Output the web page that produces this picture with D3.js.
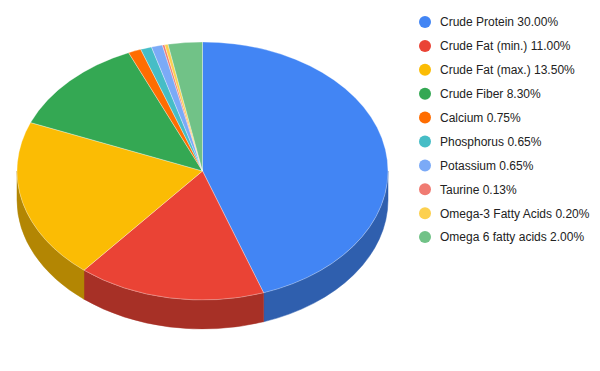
<!DOCTYPE html>
<html>
<head>
<meta charset="utf-8">
<script src="https://cdn.jsdelivr.net/npm/d3@7"></script>
<style>
  body { margin: 0; background: #fff; }
  text { font-family: Arial, "Liberation Sans", sans-serif; }
</style>
</head>
<body>
<svg width="600" height="371"></svg>
<script>
var names = ["Crude Protein 30.00%", "Crude Fat (min.) 11.00%", "Crude Fat (max.) 13.50%",
  "Crude Fiber 8.30%", "Calcium 0.75%", "Phosphorus 0.65%", "Potassium 0.65%",
  "Taurine 0.13%", "Omega-3 Fatty Acids 0.20%", "Omega 6 fatty acids 2.00%"]
var values = [30, 11, 13.5, 8.3, 0.75, 0.65, 0.65, 0.13, 0.2, 2]
var colors = ["#4285f4", "#ea4335", "#fbbc04", "#34a853", "#ff6d01",
  "#46bdc6", "#7baaf7", "#f07b72", "#fcd04f", "#71c287"]

var cx = 202.5, cy = 171, rx = 185.5, ry = 129, depth = 29

var svg = d3.select("svg")

var pie = d3.pie().sort(null).value(function(d) { return d })
var slices = pie(values)

function px(a) { return cx + rx * Math.sin(a) }
function py(a) { return cy - ry * Math.cos(a) }

// side walls, only the front half (between 90 and 270 degrees) is visible
var lo = Math.PI / 2, hi = Math.PI * 1.5
var walls = svg.append("g")
slices.forEach(function(s, i) {
  var a0 = Math.max(s.startAngle, lo)
  var a1 = Math.min(s.endAngle, hi)
  if (a1 <= a0) return
  var big = (a1 - a0) > Math.PI ? 1 : 0
  var p = "M" + px(a0) + "," + py(a0) +
    "A" + rx + "," + ry + " 0 " + big + " 1 " + px(a1) + "," + py(a1) +
    "L" + px(a1) + "," + (py(a1) + depth) +
    "A" + rx + "," + ry + " 0 " + big + " 0 " + px(a0) + "," + (py(a0) + depth) + "Z"
  walls.append("path")
    .attr("d", p)
    .attr("fill", d3.rgb(colors[i]).darker(0.95))
    .attr("stroke", d3.rgb(colors[i]).darker(0.95))
    .attr("stroke-width", 0.5)
})

// top face
var arc = d3.arc().innerRadius(0).outerRadius(rx)
svg.append("g")
  .attr("transform", "translate(" + cx + "," + cy + ") scale(1," + (ry / rx) + ")")
  .selectAll("path")
  .data(slices)
  .enter()
  .append("path")
    .attr("d", arc)
    .attr("fill", function(d, i) { return colors[i] })
    .attr("stroke", "#ffffff")
    .attr("stroke-opacity", 0.45)
    .attr("stroke-width", 0.7)
    .attr("vector-effect", "non-scaling-stroke")

// legend
var legend = svg.append("g")
var rowY = d3.scaleLinear().domain([0, 1]).range([22, 45.9])
names.forEach(function(n, i) {
  legend.append("circle")
    .attr("cx", 425)
    .attr("cy", rowY(i))
    .attr("r", 6)
    .attr("fill", colors[i])
  legend.append("text")
    .text(n)
    .attr("x", 440)
    .attr("y", rowY(i))
    .attr("dy", "0.36em")
    .attr("font-size", 12)
    .attr("fill", "#222222")
})
</script>
</body>
</html>
